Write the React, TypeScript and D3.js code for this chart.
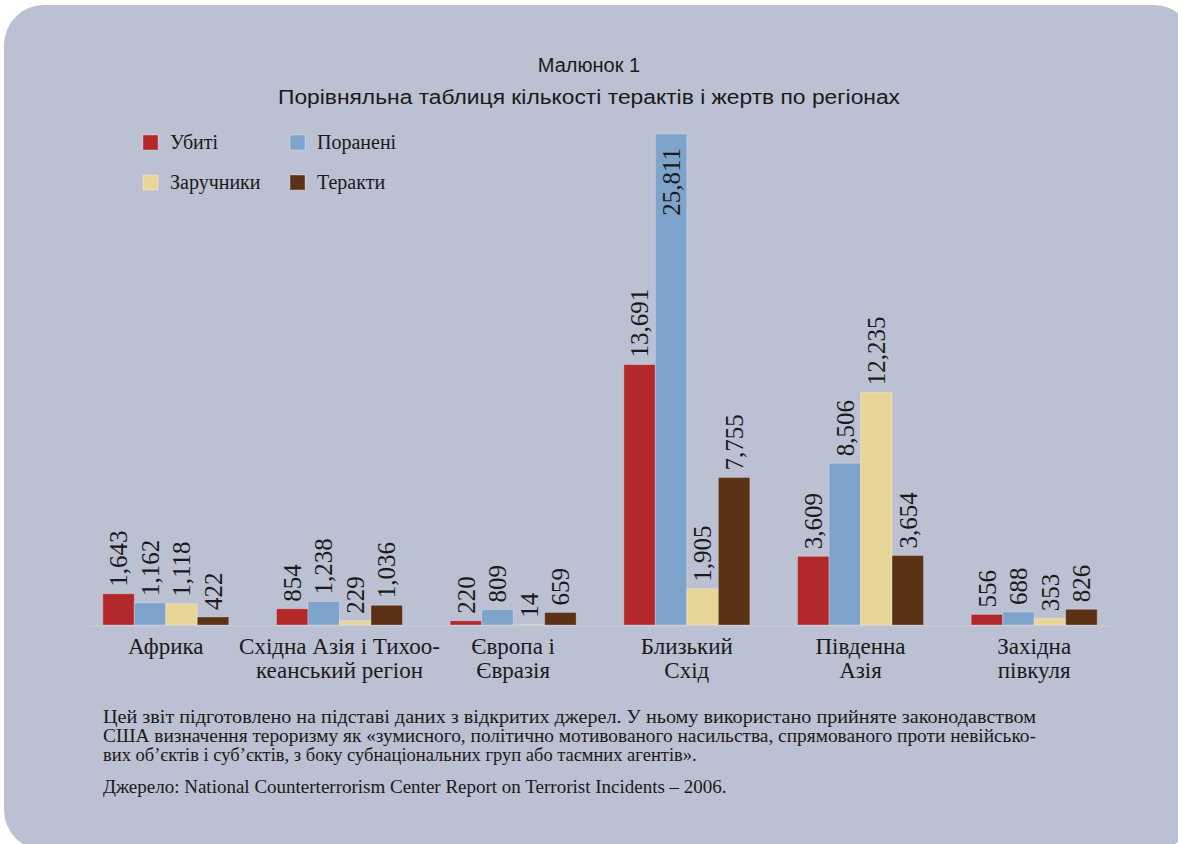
import React, { useEffect, useRef } from 'react';
import * as d3 from 'd3';

// regions (each label may break into two lines under the axis)
const categories = ['Африка', 'Східна Азія', 'Європа', 'Близький Схід', 'Південна Азія', 'Західна півкуля'];
const categoryLines = [
  ['Африка'],
  ['Східна Азія і Тихоо-', 'кеанський регіон'],
  ['Європа і', 'Євразія'],
  ['Близький', 'Схід'],
  ['Південна', 'Азія'],
  ['Західна', 'півкуля'],
];

const seriesNames = ['Убиті', 'Поранені', 'Заручники', 'Теракти'];
const seriesColors = ['#b3292b', '#7fa4cc', '#e8d699', '#5c3217'];

const killed = [1643, 854, 220, 13691, 3609, 556];
const injured = [1162, 1238, 809, 25811, 8506, 688];
const hostages = [1118, 229, 14, 1905, 12235, 353];
const attacks = [422, 1036, 659, 7755, 3654, 826];

const titleLines = ['Малюнок 1', 'Порівняльна таблиця кількості терактів і жертв по регіонах'];
const noteLines = [
  'Цей звіт підготовлено на підставі даних з відкритих джерел. У ньому використано прийняте законодавством',
  'США визначення тероризму як «зумисного, політично мотивованого насильства, спрямованого проти невійсько-',
  'вих об’єктів і суб’єктів, з боку субнаціональних груп або таємних агентів».',
];
const sourceLine = 'Джерело: National Counterterrorism Center Report on Terrorist Incidents – 2006.';

const W = 1178;
const H = 844;
const serif = '"Liberation Serif", "DejaVu Serif", serif';
const sans = '"Liberation Sans", Arial, sans-serif';

const App: React.FC = () => {
  const svgRef = useRef<SVGSVGElement>(null);

  useEffect(() => {
    if (!svgRef.current) return;
    const svg = d3.select(svgRef.current);
    svg.selectAll('*').remove();

    const series = [killed, injured, hostages, attacks];
    const baseY = 625;

    // panel
    svg.append('rect')
      .attr('x', 4).attr('y', 5)
      .attr('width', 1190).attr('height', 845)
      .attr('rx', 40)
      .attr('fill', '#bbc0d2');

    // title
    svg.selectAll('text.title')
      .data(titleLines)
      .join('text')
      .attr('class', 'title')
      .attr('x', W / 2)
      .attr('y', (_, i) => 72 + i * 32)
      .attr('text-anchor', 'middle')
      .attr('font-family', sans)
      .attr('font-size', 20)
      .attr('fill', '#1a1a1a')
      .attr('textLength', (_, i) => (i === 1 ? 622 : null) as any)
      .attr('lengthAdjust', 'spacingAndGlyphs')
      .text(d => d);

    const x0 = d3.scaleBand<string>()
      .domain(categories)
      .range([79, 1121])
      .paddingInner(0.2745)
      .paddingOuter(0.137);

    const x1 = d3.scaleBand<string>()
      .domain(seriesNames)
      .range([0, x0.bandwidth()]);

    const y = d3.scaleLinear()
      .domain([0, d3.max(injured) as number])
      .range([baseY, 134]);

    const fmt = d3.format(',');

    // baseline
    svg.append('line')
      .attr('x1', 84).attr('x2', 1112)
      .attr('y1', baseY + 1).attr('y2', baseY + 1)
      .attr('stroke', '#c8ccdb')
      .attr('stroke-width', 1);

    const groups = svg.selectAll('g.region')
      .data(categories)
      .join('g')
      .attr('class', 'region')
      .attr('transform', d => `translate(${x0(d)},0)`);

    groups.each(function (cat, ci) {
      const g = d3.select(this);
      seriesNames.forEach((name, si) => {
        const v = series[si][ci];
        const bx = x1(name) as number;
        const top = y(v);
        g.append('rect')
          .attr('x', bx)
          .attr('y', top)
          .attr('width', x1.bandwidth())
          .attr('height', baseY - top)
          .attr('fill', seriesColors[si])
          .attr('stroke', 'rgba(255,255,255,0.28)')
          .attr('stroke-width', 1);

        // value label, rotated; tallest one sits inside the bar
        const inside = top - 80 < 120;
        const cx = bx + x1.bandwidth() / 2;
        const ly = inside ? top + 14 : top - 7;
        g.append('text')
          .attr('transform', `translate(${cx},${ly}) rotate(-90)`)
          .attr('dy', '0.35em')
          .attr('text-anchor', inside ? 'end' : 'start')
          .attr('font-family', serif)
          .attr('font-size', 25)
          .attr('fill', '#1a1a1a')
          .text(fmt(v));
      });

      const lines = categoryLines[ci];
      lines.forEach((ln, li) => {
        g.append('text')
          .attr('x', x0.bandwidth() / 2)
          .attr('y', 654 + li * 24)
          .attr('text-anchor', 'middle')
          .attr('font-family', serif)
          .attr('font-size', 23)
          .attr('fill', '#1a1a1a')
          .text(ln);
      });
    });

    // legend
    const legend = svg.append('g');
    seriesNames.forEach((name, i) => {
      const lx = i % 2 === 0 ? 143 : 290;
      const ly = i < 2 ? 135 : 175;
      legend.append('rect')
        .attr('x', lx).attr('y', ly)
        .attr('width', 15).attr('height', 15)
        .attr('fill', seriesColors[i])
        .attr('stroke', 'rgba(255,255,255,0.3)')
        .attr('stroke-width', 1);
      legend.append('text')
        .attr('x', lx + 27)
        .attr('y', ly + 14)
        .attr('font-family', serif)
        .attr('font-size', 20)
        .attr('fill', '#1a1a1a')
        .text(name);
    });

    // note under chart
    svg.selectAll('text.note')
      .data(noteLines)
      .join('text')
      .attr('class', 'note')
      .attr('x', 103)
      .attr('y', (_, i) => 723 + i * 19)
      .attr('font-family', serif)
      .attr('font-size', 18.5)
      .attr('fill', '#1a1a1a')
      .attr('textLength', (_, i) => (i < 2 ? 933 : null) as any)
      .attr('lengthAdjust', 'spacingAndGlyphs')
      .text(d => d);

    svg.append('text')
      .attr('x', 103)
      .attr('y', 793)
      .attr('font-family', serif)
      .attr('font-size', 19)
      .attr('fill', '#1a1a1a')
      .text(sourceLine);
  }, []);

  return (
    <svg
      ref={svgRef}
      width={W}
      height={H}
      style={{ position: 'absolute', left: 0, top: 0, background: '#ffffff' }}
    />
  );
};

export default App;
